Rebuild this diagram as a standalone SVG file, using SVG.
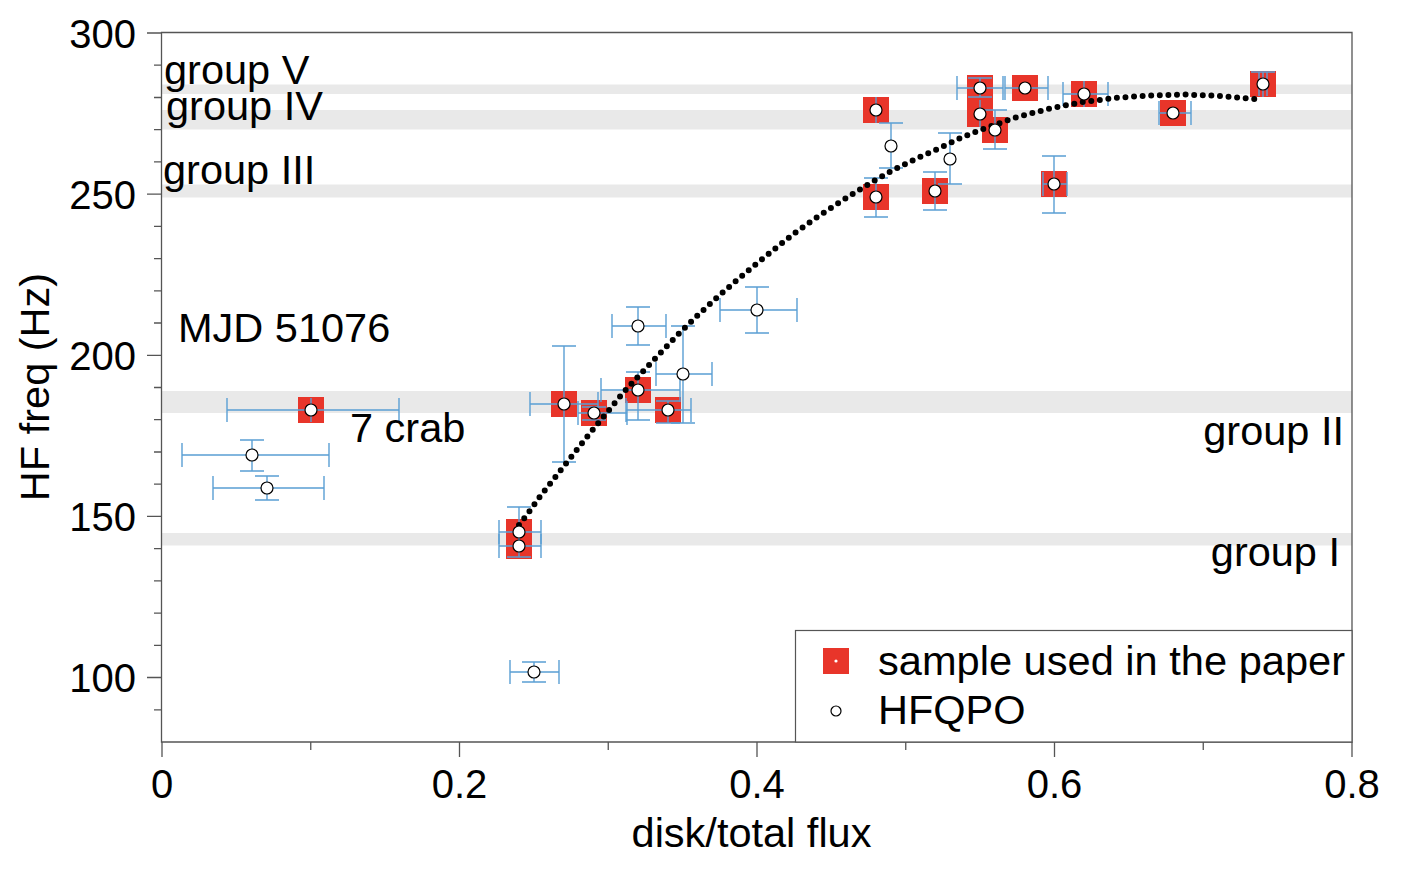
<svg xmlns="http://www.w3.org/2000/svg" width="1406" height="872" viewBox="0 0 1406 872">
<style>
text{font-family:"Liberation Sans",Arial,Helvetica,sans-serif;fill:#000}
.lbl{font-size:41.5px}
.tk{font-size:40px}
.band{fill:#e9e9e9}
.ax{stroke:#555;stroke-width:1.3;fill:none}
.eb{stroke:#5a9fd4;stroke-width:1.4;fill:none}
.sq{fill:#e8352a}
.pt{fill:#fff;stroke:#000;stroke-width:1.2}
.fit{fill:none;stroke:#000;stroke-width:6;stroke-linecap:round;stroke-dasharray:0 8.6}
</style>
<defs>
<rect id="sqm" x="-13" y="-13" width="26" height="26" class="sq"/>
<circle id="ptm" r="6" class="pt"/>
</defs>
<rect width="1406" height="872" fill="#fff"/>
<g id="bands">
<rect class="band" x="162" y="84.5" width="1190" height="9.5"/>
<rect class="band" x="162" y="110" width="1190" height="19.5"/>
<rect class="band" x="162" y="184.5" width="1190" height="13"/>
<rect class="band" x="162" y="391" width="1190" height="22"/>
<rect class="band" x="162" y="533" width="1190" height="12.5"/>
</g>
<g id="axes">
<path class="ax" d="M161.5,32.5H1352V742H161.5Z"/>
<path class="ax" d="M147,33H162M147,194.1H162M147,355.3H162M147,516.4H162M147,677.5H162
M154,65.2H162M154,97.5H162M154,129.7H162M154,161.9H162M154,226.4H162M154,258.6H162M154,290.8H162M154,323H162M154,387.5H162M154,419.7H162M154,452H162M154,484.2H162M154,548.6H162M154,580.9H162M154,613.1H162M154,645.3H162M154,709.8H162"/>
<path class="ax" d="M162,742V757M459.5,742V757M757,742V757M1054.5,742V757M1352,742V757M310.75,742V750M608.25,742V750M905.75,742V750M1203.25,742V750"/>
<g class="tk" text-anchor="end">
<text x="136" y="48">300</text>
<text x="136" y="209">250</text>
<text x="136" y="370">200</text>
<text x="136" y="531">150</text>
<text x="136" y="692">100</text>
</g>
<g class="tk" text-anchor="middle">
<text x="162" y="798">0</text>
<text x="459.5" y="798">0.2</text>
<text x="757" y="798">0.4</text>
<text x="1054.5" y="798">0.6</text>
<text x="1352" y="798">0.8</text>
</g>
<text class="lbl" x="751.5" y="847" text-anchor="middle">disk/total flux</text>
<text class="lbl" transform="translate(49,387) rotate(-90)" text-anchor="middle">HF freq (Hz)</text>
</g>
<g id="squares">
<use href="#sqm" x="311" y="410"/>
<use href="#sqm" x="519" y="532"/>
<use href="#sqm" x="519" y="546"/>
<use href="#sqm" x="564" y="404"/>
<use href="#sqm" x="594" y="413"/>
<use href="#sqm" x="638" y="390"/>
<use href="#sqm" x="668" y="410"/>
<use href="#sqm" x="876" y="110"/>
<use href="#sqm" x="876" y="197"/>
<use href="#sqm" x="935" y="191"/>
<use href="#sqm" x="980" y="88"/>
<use href="#sqm" x="980" y="114"/>
<use href="#sqm" x="995" y="130"/>
<use href="#sqm" x="1025" y="88"/>
<use href="#sqm" x="1084" y="94"/>
<use href="#sqm" x="1173" y="113"/>
<use href="#sqm" x="1263" y="84"/>
<use href="#sqm" x="1054" y="184"/>
</g>
<g id="errorbars" class="eb">
<path id="eA" d="M227,410H399M227,398V422M399,398V422M311,398V422"/>
<path id="eB" d="M182,455H329M182,443V467M329,443V467M252,440V471M240,440H264M240,471H264"/>
<path id="eC" d="M213,488H324M213,476V500M324,476V500M267,476V500M255,476H279M255,500H279"/>
<path id="eD" d="M510,672H559M510,660V684M559,660V684M534,662V682M522,662H546M522,682H546"/>
<path id="eE1" d="M499,532H541M499,520V544M541,520V544M519,507V546M507,507H531"/>
<path id="eE2" d="M499,546H541M499,534V558M541,534V558M519,533V557M507,557H531"/>
<path id="eF" d="M530,404H598M530,392V416M598,392V416M564,346V462M552,346H576M552,462H576"/>
<path id="eG" d="M578,413H627M578,401V425M627,401V425M594,407V420M582,407H606M582,420H606"/>
<path id="eH" d="M601,390H680M601,378V402M680,378V402M638,372V420M626,372H650M626,420H650"/>
<path id="eI" d="M626,410H691M626,398V422M691,398V422M668,401V423M656,401H680M656,423H680"/>
<path id="eJ" d="M612,326H666M612,314V338M666,314V338M638,307V345M626,307H650M626,345H650"/>
<path id="eK" d="M656,374H712M656,362V386M712,362V386M683,326V423M671,326H695M671,423H695"/>
<path id="eL" d="M720,310H797M720,298V322M797,298V322M757,287V333M745,287H769M745,333H769"/>
<path id="eM" d="M876,97V123"/>
<path id="eN" d="M891,123V168M879,123H903M879,168H903"/>
<path id="eO" d="M876,178V217M864,178H888M864,217H888"/>
<path id="eP" d="M935,172V210M923,172H947M923,210H947"/>
<path id="eQ" d="M950,133V184M938,133H962M938,184H962"/>
<path id="eR1" d="M957,88H1003M957,76V100M1003,76V100M980,78V97M968,78H992M968,97H992"/>
<path id="eR2" d="M980,100V127"/>
<path id="eS" d="M995,110V149M983,110H1007M983,149H1007"/>
<path id="eT" d="M1005,88H1048M1005,76V100M1048,76V100"/>
<path id="eU" d="M1063,94H1108M1063,82V106M1108,82V106M1084,81V107"/>
<path id="eV" d="M1159,113H1191M1159,101V125M1191,101V125"/>
<path id="eW" d="M1259,84H1267M1259,72V96M1267,72V96M1263,72V97M1251,72H1275"/>
<path id="eX" d="M1043,184H1067M1043,172V196M1067,172V196M1054,156V213M1042,156H1066M1042,213H1066"/>
</g>
<g id="fit">
<path class="fit" d="M519,525L524,518.5L529,512L534,505L539,498L544,491.5L557,475L570,458.5L583,442L595,427L607,412.5L623,393L640,374.5L657,356.5L677,335.5L697,316L717,297.5L736,281L755.7,264.3L775,248.7L794.3,233.3L814.3,219L835.7,204.7L850,195.7L871,182.7L893.3,170L916,158.7L938.3,148.7L961.7,137.5L983,129L1017,117L1050,108.5L1083,102L1117,97.8L1150,95.5L1183,94.5L1217,95.8L1258,99.3"/>
</g>
<g id="points">
<use href="#ptm" x="311" y="410"/>
<use href="#ptm" x="252" y="455"/>
<use href="#ptm" x="267" y="488"/>
<use href="#ptm" x="534" y="672"/>
<use href="#ptm" x="519" y="532"/>
<use href="#ptm" x="519" y="546"/>
<use href="#ptm" x="564" y="404"/>
<use href="#ptm" x="594" y="413"/>
<use href="#ptm" x="638" y="390"/>
<use href="#ptm" x="668" y="410"/>
<use href="#ptm" x="638" y="326"/>
<use href="#ptm" x="683" y="374"/>
<use href="#ptm" x="757" y="310"/>
<use href="#ptm" x="876" y="110"/>
<use href="#ptm" x="891" y="146"/>
<use href="#ptm" x="876" y="197"/>
<use href="#ptm" x="935" y="191"/>
<use href="#ptm" x="950" y="159"/>
<use href="#ptm" x="980" y="88"/>
<use href="#ptm" x="980" y="114"/>
<use href="#ptm" x="995" y="130"/>
<use href="#ptm" x="1025" y="88"/>
<use href="#ptm" x="1084" y="94"/>
<use href="#ptm" x="1173" y="113"/>
<use href="#ptm" x="1263" y="84"/>
<use href="#ptm" x="1054" y="184"/>
</g>
<g id="labels" class="lbl">
<text x="164" y="84">group V</text>
<text x="166" y="120">group IV</text>
<text x="163" y="184">group III</text>
<text x="178" y="342">MJD 51076</text>
<text x="350" y="442">7 crab</text>
<text x="1344" y="445" text-anchor="end">group II</text>
<text x="1340" y="566" text-anchor="end">group I</text>
</g>
<g id="legend">
<rect x="795.5" y="630.5" width="556.5" height="111.5" fill="#fff" stroke="#555" stroke-width="1.2"/>
<rect class="sq" x="823" y="648" width="26" height="26"/>
<circle cx="836" cy="661" r="1.6" fill="#fff"/>
<circle cx="836" cy="711" r="5" class="pt"/>
<text class="lbl" x="878" y="675" textLength="467" lengthAdjust="spacingAndGlyphs">sample used in the paper</text>
<text class="lbl" x="878" y="724">HFQPO</text>
</g>
</svg>
